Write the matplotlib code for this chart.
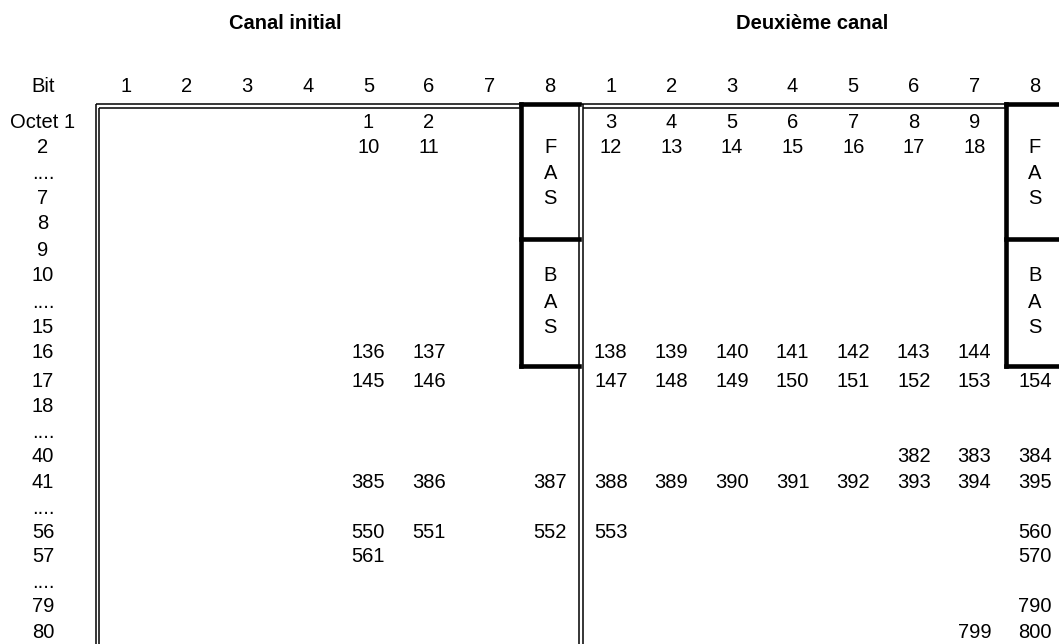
import matplotlib
matplotlib.use("Agg")
import matplotlib.pyplot as plt

# --- data ---
titles = ["Canal initial", "Deuxième canal"]
bit_labels = ["1", "2", "3", "4", "5", "6", "7", "8",
              "1", "2", "3", "4", "5", "6", "7", "8"]
row_labels = ["Octet 1", "2", "....", "7", "8", "9", "10", "....", "15", "16",
              "17", "18", "....", "40", "41", "....", "56", "57", "....", "79", "80"]

# cell contents: row label index -> {column index: text}
cells = {
    0: {4: "1", 5: "2", 8: "3", 9: "4", 10: "5", 11: "6", 12: "7", 13: "8", 14: "9"},
    1: {4: "10", 5: "11", 8: "12", 9: "13", 10: "14", 11: "15", 12: "16", 13: "17", 14: "18"},
    9: {4: "136", 5: "137", 8: "138", 9: "139", 10: "140", 11: "141", 12: "142", 13: "143", 14: "144"},
    10: {4: "145", 5: "146", 8: "147", 9: "148", 10: "149", 11: "150", 12: "151", 13: "152",
         14: "153", 15: "154"},
    13: {13: "382", 14: "383", 15: "384"},
    14: {4: "385", 5: "386", 7: "387", 8: "388", 9: "389", 10: "390", 11: "391", 12: "392",
         13: "393", 14: "394", 15: "395"},
    16: {4: "550", 5: "551", 7: "552", 8: "553", 15: "560"},
    17: {4: "561", 15: "570"},
    19: {15: "790"},
    20: {14: "799", 15: "800"},
}
fas_letters = ["F", "A", "S"]
bas_letters = ["B", "A", "S"]
fas_rows = [1, 2, 3]
bas_rows = [6, 7, 8]
box_cols = [7, 15]

# --- layout (pixels) ---
W, H = 1059, 644
col_x = [126 + 60.6 * i for i in range(16)]
half = 30.3
row_y = [122, 147, 173, 198, 223, 250, 275, 302, 327, 352,
         381, 406, 432, 456, 482, 508, 532, 557, 583, 607, 632]
header_y = 86
label_x = 43
title_pos = [(285, 23), (812, 23)]
top_y = 103.5
sep_y = 239
box_bottom = 366

plt.rcParams['font.family'] = ['Liberation Sans', 'DejaVu Sans']
fs = 14.5

fig = plt.figure(figsize=(W / 100, H / 100), dpi=100)
ax = fig.add_axes([0, 0, 1, 1])
ax.set_xlim(0, W)
ax.set_ylim(H, 0)
ax.axis('off')

for t, (x, y) in zip(titles, title_pos):
    ax.text(x, y, t, ha='center', va='center', fontsize=fs, fontweight='bold')

ax.text(label_x, header_y, "Bit", ha='center', va='center', fontsize=fs)
for x, b in zip(col_x, bit_labels):
    ax.text(x, header_y, b, ha='center', va='center', fontsize=fs)

for y, lab in zip(row_y, row_labels):
    ax.text(label_x, y, lab, ha='center', va='center', fontsize=fs)

for r, row in cells.items():
    for c, txt in row.items():
        ax.text(col_x[c], row_y[r], txt, ha='center', va='center', fontsize=fs)

for c in box_cols:
    for r, ch in zip(fas_rows, fas_letters):
        ax.text(col_x[c], row_y[r], ch, ha='center', va='center', fontsize=fs)
    for r, ch in zip(bas_rows, bas_letters):
        ax.text(col_x[c], row_y[r], ch, ha='center', va='center', fontsize=fs)

thin = dict(color='black', lw=1.1, solid_capstyle='butt')
thick = dict(color='black', lw=3.3, solid_capstyle='projecting')
gap = 4

# left double vertical border
lx = col_x[0] - half
ax.plot([lx, lx], [top_y, H], **thin)
ax.plot([lx + gap - 1, lx + gap - 1], [top_y + gap, H], **thin)

# middle double vertical between the two channels
mx = col_x[7] + half - 1.5
ax.plot([mx, mx], [top_y, H], **thin)
ax.plot([mx + gap, mx + gap], [top_y, H], **thin)

# top double lines
ax.plot([lx, col_x[7] - half], [top_y, top_y], **thin)
ax.plot([lx + gap - 1, col_x[7] - half], [top_y + gap, top_y + gap], **thin)
ax.plot([mx, col_x[15] - half], [top_y, top_y], **thin)
ax.plot([mx + gap, col_x[15] - half], [top_y + gap, top_y + gap], **thin)

# thick FAS / BAS boxes
for c in box_cols:
    bl = col_x[c] - half + 1
    br = min(col_x[c] + half - 1.5, W + 5)
    ax.plot([bl, bl], [top_y, box_bottom], **thick)
    ax.plot([bl, br], [top_y, top_y], **thick)
    ax.plot([bl, br], [sep_y, sep_y], **thick)
    ax.plot([bl, br], [box_bottom, box_bottom], **thick)

fig.savefig("out.png", dpi=100)
